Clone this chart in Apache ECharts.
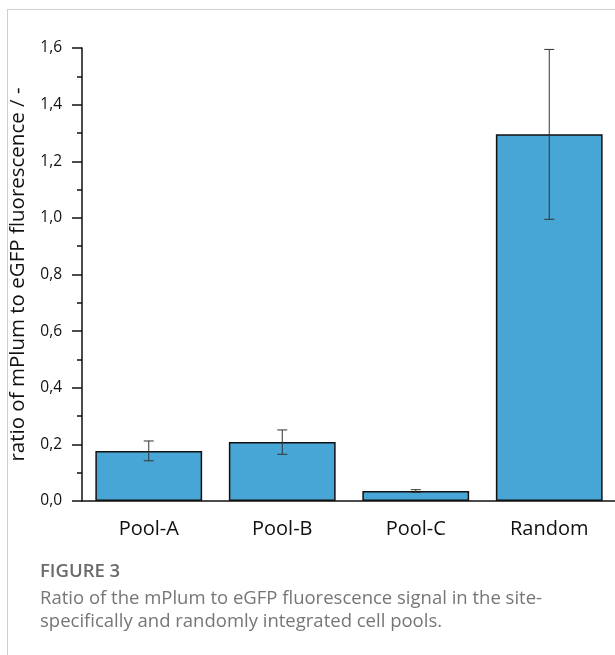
<!DOCTYPE html>
<html>
<head>
<meta charset="utf-8">
<script src="https://cdn.jsdelivr.net/npm/echarts@6/dist/echarts.min.js"></script>
<style>
html,body{margin:0;padding:0;background:#fff;}
#main{width:615px;height:655px;}
</style>
</head>
<body>
<div id="main"></div>
<script>
var categories = ['Pool-A', 'Pool-B', 'Pool-C', 'Random'];
var ratioMeans = [0.177, 0.208, 0.035, 1.295];
var ratioErrors = [0.035, 0.043, 0.005, 0.30];
var yTicks = [0, 0.2, 0.4, 0.6, 0.8, 1.0, 1.2, 1.4, 1.6];

var errData = categories.map(function (c, i) {
  return [i, ratioMeans[i] - ratioErrors[i], ratioMeans[i] + ratioErrors[i]];
});

var chart = echarts.init(document.getElementById('main'), null, {renderer: 'canvas'});
var font = '"Open Sans", "Noto Sans", sans-serif';

var option = {
  animation: false,
  backgroundColor: '#fff',
  grid: {left: 82, top: 48, right: -1, bottom: 154, containLabel: false, outerBoundsMode: 'none'},
  xAxis: [{
    type: 'category',
    data: categories,
    axisLine: {lineStyle: {color: '#111', width: 1.5}},
    axisTick: {alignWithLabel: true, length: 9, lineStyle: {color: '#111', width: 1.5}},
    axisLabel: {color: '#111', fontSize: 20, fontFamily: font, margin: 18}
  }, {
    type: 'category',
    data: categories,
    position: 'bottom',
    axisLine: {show: false},
    axisTick: {length: 5, lineStyle: {color: '#111', width: 1.5}},
    axisLabel: {show: false}
  }],
  yAxis: {
    type: 'value',
    min: yTicks[0],
    max: yTicks[yTicks.length - 1],
    interval: 0.2,
    name: 'ratio of mPlum to eGFP fluorescence / -',
    nameLocation: 'middle',
    nameGap: 53,
    nameTextStyle: {color: '#111', fontSize: 20.5, fontFamily: font},
    axisLine: {show: true, lineStyle: {color: '#111', width: 1.5}},
    axisTick: {show: true, length: 10, lineStyle: {color: '#111', width: 1.5}},
    minorTick: {show: true, splitNumber: 2, length: 5, lineStyle: {color: '#111', width: 1.5}},
    splitLine: {show: false},
    axisLabel: {
      color: '#111', fontSize: 15.5, fontFamily: font, margin: 20,
      formatter: function (v) { return v.toFixed(1).replace('.', ','); }
    }
  },
  series: [{
    type: 'bar',
    data: ratioMeans,
    barWidth: '80%',
    itemStyle: {color: '#48a6d6', borderColor: '#111', borderWidth: 1.5}
  }, {
    type: 'custom',
    data: errData,
    z: 10,
    renderItem: function (params, api) {
      var x = api.value(0);
      var lo = api.coord([x, api.value(1)]);
      var hi = api.coord([x, api.value(2)]);
      var hw = 5;
      var style = {stroke: '#333', lineWidth: 1};
      return {
        type: 'group',
        children: [
          {type: 'line', shape: {x1: lo[0], y1: lo[1], x2: hi[0], y2: hi[1]}, style: style},
          {type: 'line', shape: {x1: lo[0] - hw, y1: lo[1], x2: lo[0] + hw, y2: lo[1]}, style: style},
          {type: 'line', shape: {x1: hi[0] - hw, y1: hi[1], x2: hi[0] + hw, y2: hi[1]}, style: style}
        ]
      };
    }
  }],
  graphic: [
    {type: 'line', shape: {x1: 7, y1: 9.5, x2: 615, y2: 9.5}, style: {stroke: '#cfcfcf', lineWidth: 1}},
    {type: 'line', shape: {x1: 7.5, y1: 9, x2: 7.5, y2: 655}, style: {stroke: '#cfcfcf', lineWidth: 1}},
    {type: 'text', left: 40, top: 562, style: {text: 'FIGURE 3', fill: '#6b6b6b', font: '600 18.5px ' + font}},
    {type: 'text', left: 40, top: 587, style: {text: 'Ratio of the mPlum to eGFP fluorescence signal in the site-\nspecifically and randomly integrated cell pools.', fill: '#767676', font: '18.5px ' + font, lineHeight: 23}}
  ]
};
chart.setOption(option);
</script>
</body>
</html>
